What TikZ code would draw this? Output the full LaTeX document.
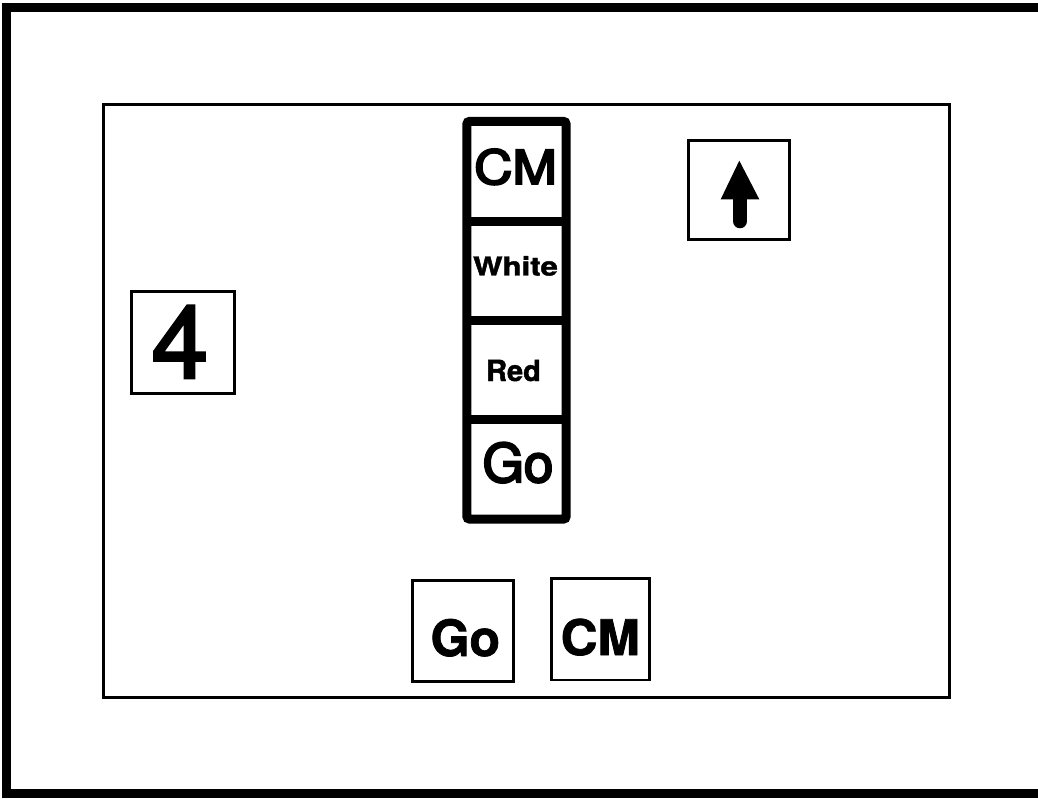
\documentclass[tikz,border=0pt]{standalone}
\usepackage{fontspec}
\setmainfont{TeX Gyre Heros}
\newfontfamily\heavyreg[FakeBold=2.5]{TeX Gyre Heros}
\newfontfamily\heavymid[FakeBold=4]{TeX Gyre Heros}
\newfontfamily\heavybold[FakeBold=1.5,UprightFont=*,BoldFont=*]{TeX Gyre Heros Bold}
\begin{document}
\begin{tikzpicture}[x=1pt,y=-1pt,
  sq/.style={draw,line width=2.8pt,inner sep=0pt},
  cell/.style={minimum width=99pt,minimum height=99.375pt,inner sep=0pt},
  txt/.style={inner sep=0pt,anchor=base},
  heavy/.style={line width=9pt}]
\useasboundingbox (0,0) rectangle (1038,799);
\clip (0,0) rectangle (1038,799);
% outer frame
\draw[line width=9.5pt] (6.5,7.5) rectangle (1050,793.5);
% inner frame
\draw[line width=3pt] (103.5,104.5) rectangle (949.5,697);
% stack
\node[cell] (c1) at (516.5,171.19) {};
\node[cell] (c2) at (516.5,270.56) {};
\node[cell] (c3) at (516.5,369.94) {};
\node[cell] (c4) at (516.5,469.31) {};
\draw[heavy,rounded corners=3pt] (c1.north west) rectangle (c4.south east);
\draw[heavy] (c1.south west) -- (c1.south east);
\draw[heavy] (c2.south west) -- (c2.south east);
\draw[heavy] (c3.south west) -- (c3.south east);
\node[txt,font=\heavymid\fontsize{47}{47}\selectfont,xscale=1.13] (t1) at (515.5,184) {CM};
\node[txt,font=\heavybold\fontsize{26}{26}\selectfont,xscale=1.2] (t2) at (515.5,275.5) {White};
\node[txt,font=\heavybold\fontsize{29}{29}\selectfont] (t3) at (513.5,381) {Red};
\node[txt,font=\heavymid\fontsize{53}{53}\selectfont] (t4) at (518,482) {Go};
% arrow box
\node[sq,minimum width=101pt,minimum height=98.6pt] (arr) at (738.8,190) {};
\fill (720.7,199.3) -- (739.3,160.7) -- (759.3,199.3) -- cycle;
\draw[line width=14.6pt,line cap=round] (740,195) -- (740,221);
% four box
\node[sq,minimum width=103pt,minimum height=101.6pt] (four) at (183.35,342.5) {};
\node[txt,font=\heavyreg\fontsize{102}{102}\selectfont] (t5) at (180,378) {4};
% bottom boxes
\node[sq,minimum width=101pt,minimum height=101pt] (gobox) at (463.3,631.2) {};
\node[txt,font=\heavybold\fontsize{50}{50}\selectfont] (t6) at (465.3,656) {Go};
\node[sq,minimum width=97.6pt,minimum height=101.7pt] (cmbox) at (600.5,629.2) {};
\node[txt,font=\heavybold\fontsize{49}{49}\selectfont,xscale=1.04] (t7) at (600.3,655) {CM};
\end{tikzpicture}
\end{document}
